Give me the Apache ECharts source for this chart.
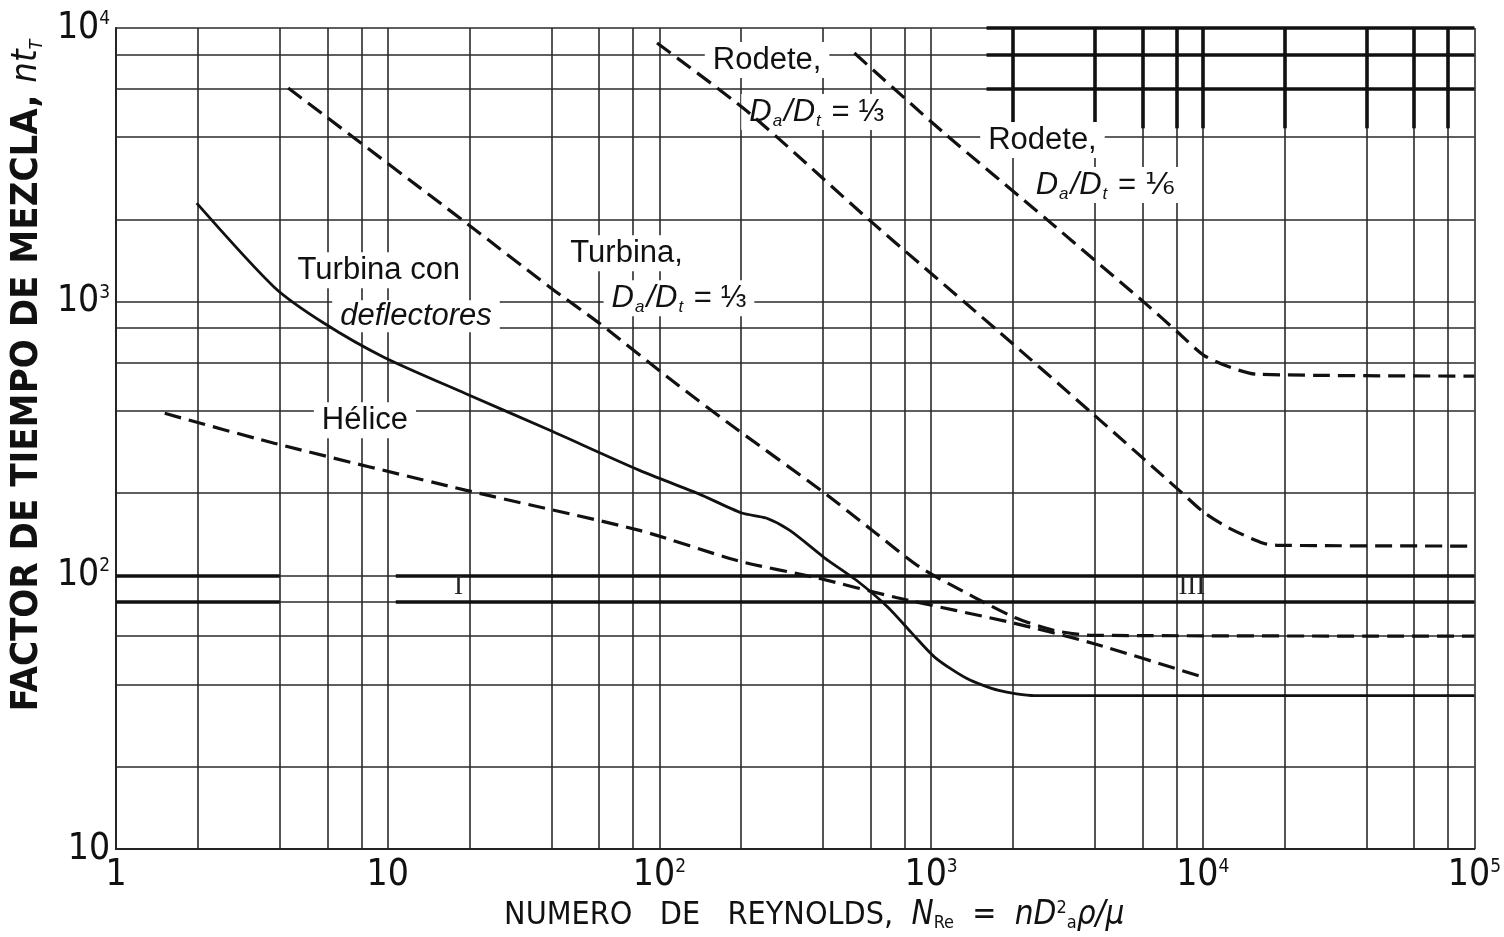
<!DOCTYPE html>
<html><head><meta charset="utf-8">
<script src="https://cdn.jsdelivr.net/npm/echarts@6/dist/echarts.min.js"></script>
<style>html,body{margin:0;padding:0;background:#fff}#c{width:1504px;height:937px}</style>
</head><body><div id="c"></div>
<script>
// ---- axes / ticks ----
const xDecades = [1, 10, 100, 1000, 10000, 100000];
const yDecades = [10, 100, 1000, 10000];
const gridMultipliers = [1, 2, 4, 6, 8];

// ---- curves (Reynolds number, mixing-time factor n*t_T) ----
const helice = [[1.51,391],[3.82,304],[19.3,205],[84.5,146],[195,113],[379,98],[744,83],[2032,66.8],[3955,56.4],[10090,42.4]];
const turbinaDeflectores = [[1.98,2291],[3.82,1130],[5.83,834],[9.67,627],[19.3,462],[39.5,339],[84.5,242],[139,199],[201,169],[247,162],[302,146],[405,116],[531,96],[695,76.4],[851,61.4],[1035,50.1],[1355,42],[1774,38],[2404,36.4],[100000,36.4]];
const turbinaTercio = [[4.30,6035],[19.6,1928],[39.5,1130],[60.3,832],[111,516],[195,339],[392,205],[608,146],[912,107],[1449,83],[2032,70.2],[2844,62.9],[3955,60.4],[100000,60]];
const rodeteTercio = [[98,8811],[214,4890],[593,1986],[1803,767],[3918,391],[8170,205],[10090,170],[12560,148.6],[16720,131],[19130,128.8],[100000,128]];
const rodeteSexto = [[522,8100],[1117,4130],[2685,1986],[6133,988],[8170,767],[10090,637],[12560,577],[15780,543],[100000,535]];

// ---- annotations (anchor in data coordinates) ----
const annotX = [249, 379, 2570, 4375, 75.7, 118, 9.27, 12.7, 8.24, 18.2, 9120];
const annotY = [7640, 4930, 3894, 2667, 1503, 1030, 1303, 885, 369, 90.4, 90.4];
const annotText = [
  '{r|Rodete,}',
  '{i|D}{sub|a}{i|/D}{sub|t}{r| = ⅓}',
  '{r|Rodete,}',
  '{i|D}{sub|a}{i|/D}{sub|t}{r| = ⅙}',
  '{r|Turbina,}',
  '{i|D}{sub|a}{i|/D}{sub|t}{r| = ⅓}',
  '{r|Turbina con}',
  '{di|deflectores}',
  '{r|Hélice}',
  '{rom|I}',
  '{rom|III}'
];
const annotBoxed = [true, true, true, true, true, true, true, true, true, false, false];

// ---- bold (heavier printed) grid segments ----
const boldHorizontalY = [100, 80];
const boldHorizontalSpans = [[1, 4], [10.7, 100000]];
const boldTopVerticalX = [2000, 4000, 6000, 8000, 10000, 20000, 40000, 60000, 80000];
const boldTopVerticalSpan = [4300, 10000];
const boldTopHorizontalY = [10000, 8000, 6000];
const boldTopHorizontalSpan = [1600, 100000];

const NARROW = "'Liberation Sans Narrow','DejaVu Sans Condensed','Arial Narrow',sans-serif";
const REG = "'Liberation Sans',Arial,'DejaVu Sans',sans-serif";
const INK = '#111';

// build grid lines
const gridLines = [];
const xLast = xDecades[xDecades.length - 1];
xDecades.slice(0, -1).forEach(d => gridMultipliers.forEach(m => gridLines.push({ xAxis: d * m })));
gridLines.push({ xAxis: xLast });
const yLast = yDecades[yDecades.length - 1];
yDecades.slice(0, -1).forEach(d => gridMultipliers.forEach(m => gridLines.push({ yAxis: d * m })));
gridLines.push({ yAxis: yLast });

const boldLines = [];
boldHorizontalY.forEach(y => boldHorizontalSpans.forEach(s => boldLines.push([{ coord: [s[0], y] }, { coord: [s[1], y] }])));
boldTopVerticalX.forEach(x => boldLines.push([{ coord: [x, boldTopVerticalSpan[0]] }, { coord: [x, boldTopVerticalSpan[1]] }]));
boldTopHorizontalY.forEach(y => boldLines.push([{ coord: [boldTopHorizontalSpan[0], y] }, { coord: [boldTopHorizontalSpan[1], y] }]));

function powLabel(v) {
  const e = Math.round(Math.log10(v));
  if (e === 0) return '{b|1}';
  if (e === 1) return '{b|10}';
  return '{b|10}{s|' + e + '}';
}
const tickRich = {
  b: { fontSize: 37, fontFamily: NARROW, color: INK },
  s: { fontSize: 19, fontFamily: NARROW, color: INK, verticalAlign: 'top', lineHeight: 19 }
};

const dashed = { color: INK, width: 3.2, type: [17, 8] };
const solid = { color: INK, width: 2.8, type: 'solid' };
function curve(name, data, ls) {
  return { name, type: 'line', data, z: 4, smooth: 0.25, showSymbol: false, symbol: 'none', lineStyle: ls, silent: true };
}

const annotData = annotX.map((x, i) => ({
  value: [x, annotY[i]],
  label: annotBoxed[i] ? { backgroundColor: '#fff', padding: [0, 8, 0, 8] } : { backgroundColor: 'transparent', padding: 0 }
}));

const labelRich = {
  r: { fontSize: 31, fontFamily: REG, color: INK, lineHeight: 36 },
  i: { fontSize: 31, fontFamily: REG, fontStyle: 'italic', color: INK, lineHeight: 36 },
  sub: { fontSize: 17, fontFamily: REG, fontStyle: 'italic', color: INK, verticalAlign: 'bottom', lineHeight: 17, padding: [0, 2, 0, 1] },
  di: { fontSize: 31, fontFamily: REG, fontStyle: 'italic', color: INK, lineHeight: 32 },
  rom: { fontSize: 27, fontFamily: "'Liberation Serif','DejaVu Serif',serif", color: '#222', lineHeight: 30 }
};

const chart = echarts.init(document.getElementById('c'), null, { renderer: 'canvas' });
chart.setOption({
  animation: false,
  backgroundColor: '#fff',
  grid: { left: 114, right: 25, top: 28, bottom: 87, containLabel: false },
  xAxis: {
    type: 'log', logBase: 10, min: xDecades[0], max: xLast,
    splitLine: { show: false }, axisTick: { show: false }, minorTick: { show: false },
    axisLine: { show: true, lineStyle: { color: INK, width: 2 } },
    axisLabel: { margin: 8, formatter: v => powLabel(v), rich: tickRich },
    name: '{t|NUMERO   DE   REYNOLDS,  }{n|N}{sb|Re}{t|  =  }{n|nD}{sp|2}{sb|a}{n|ρ/μ}',
    nameLocation: 'middle', nameGap: 36,
    nameTextStyle: {
      padding: [0, 0, 0, 38],
      rich: {
        t: { fontSize: 32, fontFamily: NARROW, color: INK },
        n: { fontSize: 33, fontFamily: NARROW, fontStyle: 'italic', color: INK },
        sb: { fontSize: 18, fontFamily: NARROW, color: INK, verticalAlign: 'bottom', lineHeight: 18 },
        sp: { fontSize: 18, fontFamily: NARROW, color: INK, verticalAlign: 'top', lineHeight: 18 }
      }
    }
  },
  yAxis: {
    type: 'log', logBase: 10, min: yDecades[0], max: yLast,
    splitLine: { show: false }, axisTick: { show: false }, minorTick: { show: false },
    axisLine: { show: true, lineStyle: { color: INK, width: 2 } },
    axisLabel: { margin: 6, formatter: v => powLabel(v), rich: tickRich },
    name: '{t|FACTOR DE TIEMPO DE MEZCLA, }{n|nt}{sb|T}',
    nameLocation: 'middle', nameGap: 64,
    nameTextStyle: {
      padding: [0, 0, 0, 126],
      rich: {
        t: { fontSize: 38, fontFamily: NARROW, fontWeight: 'bold', color: INK },
        n: { fontSize: 36, fontFamily: NARROW, fontStyle: 'italic', color: INK },
        sb: { fontSize: 18, fontFamily: NARROW, fontStyle: 'italic', color: INK, verticalAlign: 'bottom', lineHeight: 18 }
      }
    }
  },
  series: [
    {
      name: 'grid', type: 'line', data: [], z: 1, silent: true,
      markLine: {
        z: 1, silent: true, animation: false, symbol: ['none', 'none'],
        label: { show: false }, emphasis: { disabled: true },
        lineStyle: { color: '#2a2a2a', width: 1.6, type: 'solid', opacity: 1 },
        data: gridLines
      }
    },
    {
      name: 'gridBold', type: 'line', data: [], z: 1, silent: true,
      markLine: {
        z: 1, silent: true, animation: false, symbol: ['none', 'none'],
        label: { show: false }, emphasis: { disabled: true },
        lineStyle: { color: INK, width: 3.6, type: 'solid', opacity: 1 },
        data: boldLines
      }
    },
    {
      name: 'labels', type: 'scatter', z: 2, silent: true,
      symbolSize: 1, itemStyle: { color: 'rgba(0,0,0,0)', opacity: 1 },
      data: annotData,
      label: {
        show: true, position: 'inside', color: INK, opacity: 1, textBorderWidth: 0,
        formatter: p => annotText[p.dataIndex],
        rich: labelRich
      }
    },
    curve('Hélice', helice, dashed),
    curve('Turbina con deflectores', turbinaDeflectores, solid),
    curve('Turbina, Da/Dt = 1/3', turbinaTercio, dashed),
    curve('Rodete, Da/Dt = 1/3', rodeteTercio, dashed),
    curve('Rodete, Da/Dt = 1/6', rodeteSexto, dashed)
  ]
});
</script></body></html>
